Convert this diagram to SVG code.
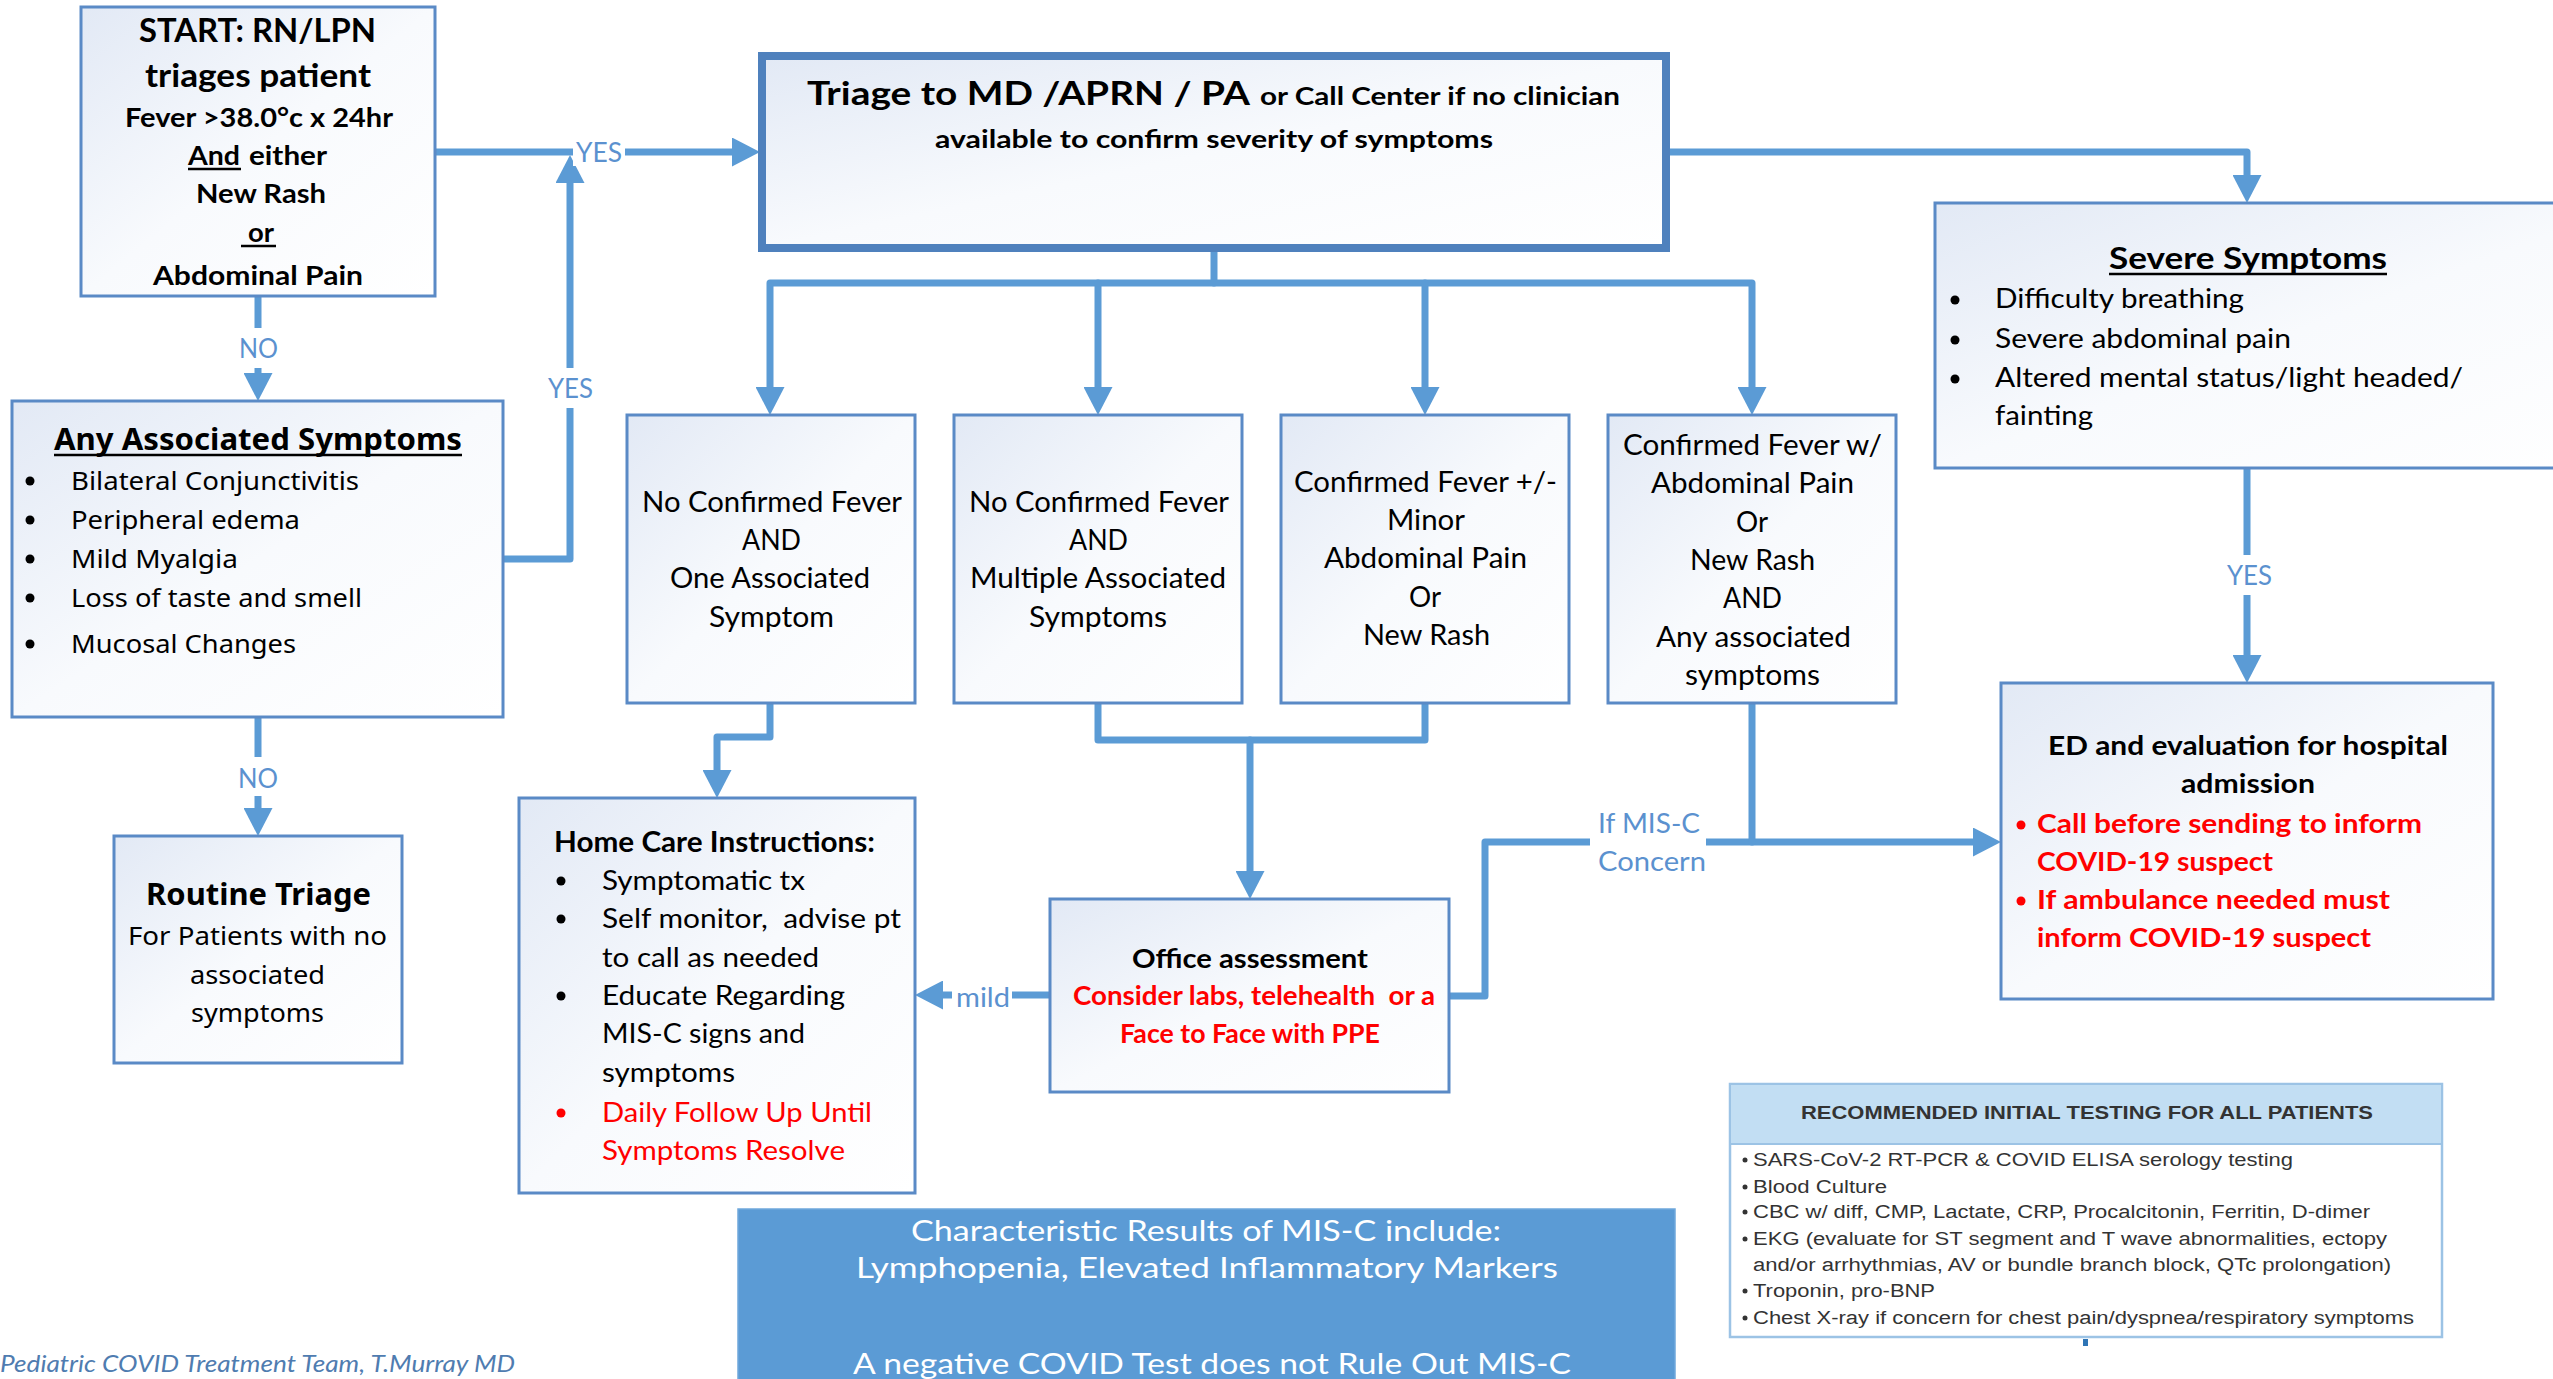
<svg xmlns="http://www.w3.org/2000/svg" width="2553" height="1379" viewBox="0 0 2553 1379">
<defs>
<linearGradient id="bg" x1="0" y1="0" x2="1" y2="1">
<stop offset="0" stop-color="#E2E9F5"/>
<stop offset="0.5" stop-color="#F8FAFD"/>
<stop offset="1" stop-color="#FFFFFF"/>
</linearGradient>
<marker id="ah" viewBox="0 0 28 29" refX="0" refY="14.5" markerWidth="28" markerHeight="29" markerUnits="userSpaceOnUse" orient="auto">
<path d="M0,0 L28,14.5 L0,29 Z" fill="#5B9BD5"/>
</marker>
</defs>
<style>
.box{fill:url(#bg);stroke:#5A8AC6;stroke-width:3}
.con{fill:none;stroke:#5B9BD5;stroke-width:7;stroke-linecap:round;stroke-linejoin:round}
.arr{marker-end:url(#ah)}
.c{font-family:Lato,"Liberation Sans",sans-serif;fill:#000}
.b{font-weight:bold}
.m{text-anchor:middle}
.red{fill:#FF0000}
.lbl{font-family:Lato,"Liberation Sans",sans-serif;font-size:27px;fill:#5B91CF}
.s{font-family:"Noto Sans","Open Sans",sans-serif;fill:#000}
.a{font-family:"Liberation Sans",Arial,sans-serif;fill:#333}
.ul{stroke:#000;stroke-width:2.5}
.pre{white-space:pre}
.mask{fill:#FFFFFF}
.w{fill:#FFFFFF}
.dot{fill:#000}
</style>

<g id="connectors">
<path class="con arr" d="M435,152 H732"/>
<path class="con arr" d="M503,559 H570 V183"/>
<path class="con arr" d="M258,296 V373"/>
<path class="con arr" d="M258,717 V808"/>
<path class="con arr" d="M1670,152 H2247 V175"/>
<path class="con arr" d="M1214,252 V283 H770 V387"/>
<path class="con arr" d="M1214,283 H1752 V387"/>
<path class="con arr" d="M1098,283 V387"/>
<path class="con arr" d="M1425,283 V387"/>
<path class="con arr" d="M2247,468 V655"/>
<path class="con arr" d="M770,703 V737 H717 V770"/>
<path class="con" d="M1098,703 V740 H1425 V703"/>
<path class="con arr" d="M1250,740 V871"/>
<path class="con arr" d="M1050,995 H943"/>
<path class="con arr" d="M1449,996 H1485 V842 H1973"/>
<path class="con" d="M1752,703 V842"/>
<rect class="mask" x="573" y="138" width="52" height="28"/>
<rect class="mask" x="545" y="368" width="50" height="40"/>
<rect class="mask" x="234" y="328" width="48" height="40"/>
<rect class="mask" x="234" y="757" width="48" height="39"/>
<rect class="mask" x="2222" y="555" width="50" height="40"/>
<rect class="mask" x="952" y="988" width="60" height="14"/>
<rect class="mask" x="1590" y="836" width="116" height="13"/>
<text class="lbl" x="576" y="162" textLength="46" lengthAdjust="spacingAndGlyphs">YES</text>
<text class="lbl" x="548" y="398" textLength="45" lengthAdjust="spacingAndGlyphs">YES</text>
<text class="lbl" x="239" y="358" textLength="39" lengthAdjust="spacingAndGlyphs">NO</text>
<text class="lbl" x="238" y="788" textLength="40" lengthAdjust="spacingAndGlyphs">NO</text>
<text class="lbl" x="2227" y="585" textLength="45" lengthAdjust="spacingAndGlyphs">YES</text>
<text class="lbl" x="956" y="1007" textLength="54" lengthAdjust="spacingAndGlyphs">mild</text>
<text class="lbl" x="1598" y="833" textLength="102" lengthAdjust="spacingAndGlyphs">If MIS-C</text>
<text class="lbl" x="1598" y="871" textLength="108" lengthAdjust="spacingAndGlyphs">Concern</text>
</g>

<g id="start">
<rect class="box" x="81" y="7" width="354" height="289"/>
<text class="c b" x="139" y="42" font-size="32" textLength="237" lengthAdjust="spacingAndGlyphs">START: RN/LPN</text>
<text class="c b" x="145" y="87" font-size="32" textLength="226" lengthAdjust="spacingAndGlyphs">triages patient</text>
<text class="c b" x="125" y="127" font-size="26" textLength="268" lengthAdjust="spacingAndGlyphs">Fever &gt;38.0°c x 24hr</text>
<text class="c b" x="188" y="165" font-size="26" textLength="52" lengthAdjust="spacingAndGlyphs">And</text>
<line class="ul" x1="188" y1="169" x2="241" y2="169"/>
<text class="c b" x="249" y="165" font-size="26" textLength="78" lengthAdjust="spacingAndGlyphs">either</text>
<text class="c b" x="196" y="203" font-size="26" textLength="130" lengthAdjust="spacingAndGlyphs">New Rash</text>
<text class="c b" x="248" y="242" font-size="26" textLength="26" lengthAdjust="spacingAndGlyphs">or</text>
<line class="ul" x1="241" y1="246" x2="276" y2="246"/>
<text class="c b" x="153" y="285" font-size="26" textLength="210" lengthAdjust="spacingAndGlyphs">Abdominal Pain</text>
</g>

<g id="triage">
<rect x="762" y="56" width="904" height="192" fill="url(#bg)" stroke="#4F81BD" stroke-width="8"/>
<text class="c b" x="807" y="105" font-size="33" textLength="443" lengthAdjust="spacingAndGlyphs">Triage to MD /APRN / PA</text>
<text class="c b" x="1260" y="105" font-size="24" textLength="360" lengthAdjust="spacingAndGlyphs">or Call Center if no clinician</text>
<text class="c b" x="935" y="148" font-size="24" textLength="558" lengthAdjust="spacingAndGlyphs">available to confirm severity of symptoms</text>
</g>

<g id="severe">
<rect class="box" x="1935" y="203" width="700" height="265"/>
<text class="c b" x="2109" y="269" font-size="30" textLength="278" lengthAdjust="spacingAndGlyphs">Severe Symptoms</text>
<line class="ul" x1="2109" y1="274" x2="2387" y2="274"/>
<circle class="dot" cx="1955" cy="300" r="4.5"/>
<circle class="dot" cx="1955" cy="340" r="4.5"/>
<circle class="dot" cx="1955" cy="379" r="4.5"/>
<text class="c" x="1995" y="308" font-size="26" textLength="249" lengthAdjust="spacingAndGlyphs">Difficulty breathing</text>
<text class="c" x="1995" y="348" font-size="26" textLength="296" lengthAdjust="spacingAndGlyphs">Severe abdominal pain</text>
<text class="c" x="1995" y="387" font-size="26" textLength="468" lengthAdjust="spacingAndGlyphs">Altered mental status/light headed/</text>
<text class="c" x="1995" y="425" font-size="26" textLength="98" lengthAdjust="spacingAndGlyphs">fainting</text>
</g>

<g id="any-associated">
<rect class="box" x="12" y="401" width="491" height="316"/>
<text class="s b" x="54" y="450" font-size="30" textLength="408" lengthAdjust="spacingAndGlyphs">Any Associated Symptoms</text>
<line class="ul" x1="54" y1="455" x2="462" y2="455"/>
<circle class="dot" cx="30" cy="481" r="4.5"/>
<circle class="dot" cx="30" cy="520" r="4.5"/>
<circle class="dot" cx="30" cy="559" r="4.5"/>
<circle class="dot" cx="30" cy="598" r="4.5"/>
<circle class="dot" cx="30" cy="644" r="4.5"/>
<text class="s" x="71" y="490" font-size="26" textLength="288" lengthAdjust="spacingAndGlyphs">Bilateral Conjunctivitis</text>
<text class="s" x="71" y="529" font-size="26" textLength="229" lengthAdjust="spacingAndGlyphs">Peripheral edema</text>
<text class="s" x="71" y="568" font-size="26" textLength="167" lengthAdjust="spacingAndGlyphs">Mild Myalgia</text>
<text class="s" x="71" y="607" font-size="26" textLength="291" lengthAdjust="spacingAndGlyphs">Loss of taste and smell</text>
<text class="s" x="71" y="653" font-size="26" textLength="225" lengthAdjust="spacingAndGlyphs">Mucosal Changes</text>
</g>

<g id="routine">
<rect class="box" x="114" y="836" width="288" height="227"/>
<text class="s b" x="146" y="905" font-size="31" textLength="225" lengthAdjust="spacingAndGlyphs">Routine Triage</text>
<text class="s" x="128" y="945" font-size="26" textLength="259" lengthAdjust="spacingAndGlyphs">For Patients with no</text>
<text class="s" x="190" y="984" font-size="26" textLength="135" lengthAdjust="spacingAndGlyphs">associated</text>
<text class="s" x="191" y="1022" font-size="26" textLength="133" lengthAdjust="spacingAndGlyphs">symptoms</text>
</g>

<g id="box-no-fever-one">
<rect class="box" x="627" y="415" width="288" height="288"/>
<text class="c" x="642" y="512" font-size="28" textLength="260" lengthAdjust="spacingAndGlyphs">No Confirmed Fever</text>
<text class="c" x="742" y="550" font-size="28" textLength="59" lengthAdjust="spacingAndGlyphs">AND</text>
<text class="c" x="670" y="588" font-size="28" textLength="200" lengthAdjust="spacingAndGlyphs">One Associated</text>
<text class="c" x="709" y="627" font-size="28" textLength="125" lengthAdjust="spacingAndGlyphs">Symptom</text>
</g>

<g id="box-no-fever-multiple">
<rect class="box" x="954" y="415" width="288" height="288"/>
<text class="c" x="969" y="512" font-size="28" textLength="260" lengthAdjust="spacingAndGlyphs">No Confirmed Fever</text>
<text class="c" x="1069" y="550" font-size="28" textLength="59" lengthAdjust="spacingAndGlyphs">AND</text>
<text class="c" x="970" y="588" font-size="28" textLength="256" lengthAdjust="spacingAndGlyphs">Multiple Associated</text>
<text class="c" x="1029" y="627" font-size="28" textLength="138" lengthAdjust="spacingAndGlyphs">Symptoms</text>
</g>

<g id="box-fever-minor">
<rect class="box" x="1281" y="415" width="288" height="288"/>
<text class="c" x="1294" y="492" font-size="28" textLength="263" lengthAdjust="spacingAndGlyphs">Confirmed Fever +/-</text>
<text class="c" x="1387" y="530" font-size="28" textLength="78" lengthAdjust="spacingAndGlyphs">Minor</text>
<text class="c" x="1324" y="568" font-size="28" textLength="203" lengthAdjust="spacingAndGlyphs">Abdominal Pain</text>
<text class="c" x="1409" y="607" font-size="28" textLength="32" lengthAdjust="spacingAndGlyphs">Or</text>
<text class="c" x="1363" y="645" font-size="28" textLength="127" lengthAdjust="spacingAndGlyphs">New Rash</text>
</g>

<g id="box-fever-any">
<rect class="box" x="1608" y="415" width="288" height="288"/>
<text class="c" x="1623" y="455" font-size="28" textLength="259" lengthAdjust="spacingAndGlyphs">Confirmed Fever w/</text>
<text class="c" x="1651" y="493" font-size="28" textLength="203" lengthAdjust="spacingAndGlyphs">Abdominal Pain</text>
<text class="c" x="1736" y="532" font-size="28" textLength="32" lengthAdjust="spacingAndGlyphs">Or</text>
<text class="c" x="1690" y="570" font-size="28" textLength="125" lengthAdjust="spacingAndGlyphs">New Rash</text>
<text class="c" x="1723" y="608" font-size="28" textLength="59" lengthAdjust="spacingAndGlyphs">AND</text>
<text class="c" x="1656" y="647" font-size="28" textLength="195" lengthAdjust="spacingAndGlyphs">Any associated</text>
<text class="c" x="1685" y="685" font-size="28" textLength="135" lengthAdjust="spacingAndGlyphs">symptoms</text>
</g>

<g id="home-care">
<rect class="box" x="519" y="798" width="396" height="395"/>
<text class="c b" x="554" y="852" font-size="28" textLength="321" lengthAdjust="spacingAndGlyphs">Home Care Instructions:</text>
<circle class="dot" cx="561" cy="881" r="4.5"/>
<circle class="dot" cx="561" cy="919" r="4.5"/>
<circle class="dot" cx="561" cy="996" r="4.5"/>
<circle cx="561" cy="1113" r="4.5" fill="#FF0000"/>
<text class="c" x="602" y="890" font-size="27" textLength="203" lengthAdjust="spacingAndGlyphs">Symptomatic tx</text>
<text class="c pre" x="602" y="928" font-size="27" textLength="299" lengthAdjust="spacingAndGlyphs">Self monitor,  advise pt</text>
<text class="c" x="602" y="967" font-size="27" textLength="217" lengthAdjust="spacingAndGlyphs">to call as needed</text>
<text class="c" x="602" y="1005" font-size="27" textLength="243" lengthAdjust="spacingAndGlyphs">Educate Regarding</text>
<text class="c" x="602" y="1043" font-size="27" textLength="203" lengthAdjust="spacingAndGlyphs">MIS-C signs and</text>
<text class="c" x="602" y="1082" font-size="27" textLength="133" lengthAdjust="spacingAndGlyphs">symptoms</text>
<text class="c red" x="602" y="1122" font-size="27" textLength="270" lengthAdjust="spacingAndGlyphs">Daily Follow Up Until</text>
<text class="c red" x="602" y="1160" font-size="27" textLength="243" lengthAdjust="spacingAndGlyphs">Symptoms Resolve</text>
</g>

<g id="office">
<rect class="box" x="1050" y="899" width="399" height="193"/>
<text class="c b" x="1132" y="968" font-size="26" textLength="236" lengthAdjust="spacingAndGlyphs">Office assessment</text>
<text class="c b red pre" x="1073" y="1005" font-size="26" textLength="362" lengthAdjust="spacingAndGlyphs">Consider labs, telehealth  or a</text>
<text class="c b red" x="1120" y="1043" font-size="26" textLength="260" lengthAdjust="spacingAndGlyphs">Face to Face with PPE</text>
</g>

<g id="ed">
<rect class="box" x="2001" y="683" width="492" height="316"/>
<text class="c b" x="2048" y="755" font-size="26" textLength="400" lengthAdjust="spacingAndGlyphs">ED and evaluation for hospital</text>
<text class="c b" x="2181" y="793" font-size="26" textLength="134" lengthAdjust="spacingAndGlyphs">admission</text>
<circle cx="2021" cy="825" r="4.5" fill="#FF0000"/>
<circle cx="2021" cy="901" r="4.5" fill="#FF0000"/>
<text class="c b red" x="2037" y="833" font-size="26" textLength="385" lengthAdjust="spacingAndGlyphs">Call before sending to inform</text>
<text class="c b red" x="2037" y="871" font-size="26" textLength="236" lengthAdjust="spacingAndGlyphs">COVID-19 suspect</text>
<text class="c b red" x="2037" y="909" font-size="26" textLength="353" lengthAdjust="spacingAndGlyphs">If ambulance needed must</text>
<text class="c b red" x="2037" y="947" font-size="26" textLength="334" lengthAdjust="spacingAndGlyphs">inform COVID-19 suspect</text>
</g>

<g id="testing-table">
<rect x="1730" y="1084" width="712" height="253" fill="#FFFFFF" stroke="#9CC3E5" stroke-width="2.5"/>
<rect x="1731" y="1085" width="710" height="59" fill="#C2DEF3"/>
<line x1="1730" y1="1144" x2="2442" y2="1144" stroke="#9CC3E5" stroke-width="2"/>
<text class="a b" x="1801" y="1119" font-size="19" fill="#222" textLength="572" lengthAdjust="spacingAndGlyphs">RECOMMENDED INITIAL TESTING FOR ALL PATIENTS</text>
<circle cx="1745" cy="1160" r="2.5" fill="#333"/>
<circle cx="1745" cy="1187" r="2.5" fill="#333"/>
<circle cx="1745" cy="1212" r="2.5" fill="#333"/>
<circle cx="1745" cy="1239" r="2.5" fill="#333"/>
<circle cx="1745" cy="1291" r="2.5" fill="#333"/>
<circle cx="1745" cy="1318" r="2.5" fill="#333"/>
<text class="a" x="1753" y="1166" font-size="18" textLength="540" lengthAdjust="spacingAndGlyphs">SARS-CoV-2 RT-PCR &amp; COVID ELISA serology testing</text>
<text class="a" x="1753" y="1193" font-size="18" textLength="134" lengthAdjust="spacingAndGlyphs">Blood Culture</text>
<text class="a" x="1753" y="1218" font-size="18" textLength="617" lengthAdjust="spacingAndGlyphs">CBC w/ diff, CMP, Lactate, CRP, Procalcitonin, Ferritin, D-dimer</text>
<text class="a" x="1753" y="1245" font-size="18" textLength="634" lengthAdjust="spacingAndGlyphs">EKG (evaluate for ST segment and T wave abnormalities, ectopy</text>
<text class="a" x="1753" y="1271" font-size="18" textLength="638" lengthAdjust="spacingAndGlyphs">and/or arrhythmias, AV or bundle branch block, QTc prolongation)</text>
<text class="a" x="1753" y="1297" font-size="18" textLength="182" lengthAdjust="spacingAndGlyphs">Troponin, pro-BNP</text>
<text class="a" x="1753" y="1324" font-size="18" textLength="661" lengthAdjust="spacingAndGlyphs">Chest X-ray if concern for chest pain/dyspnea/respiratory symptoms</text>
<rect x="2083" y="1339" width="5" height="7" fill="#2E75B6"/>
</g>

<g id="mis-c-note">
<rect x="738" y="1209" width="937" height="200" fill="#5B9BD5" stroke="#6FA8DC" stroke-width="1.5"/>
<text class="c w" x="911" y="1241" font-size="29" textLength="590" lengthAdjust="spacingAndGlyphs">Characteristic Results of MIS-C include:</text>
<text class="c w" x="856" y="1278" font-size="29" textLength="702" lengthAdjust="spacingAndGlyphs">Lymphopenia, Elevated Inflammatory Markers</text>
<text class="c w" x="853" y="1374" font-size="29" textLength="718" lengthAdjust="spacingAndGlyphs">A negative COVID Test does not Rule Out MIS-C</text>
</g>

<g id="footer">
<text x="0" y="1372" font-family="Lato, 'Liberation Sans', sans-serif" font-style="italic" font-size="23" fill="#4F7CB0" textLength="515" lengthAdjust="spacingAndGlyphs">Pediatric COVID Treatment Team, T.Murray MD</text>
</g>
</svg>
